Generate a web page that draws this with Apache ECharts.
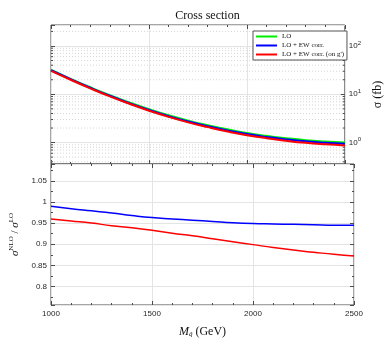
<!DOCTYPE html>
<html>
<head>
<meta charset="utf-8">
<script src="https://cdn.jsdelivr.net/npm/echarts@6/dist/echarts.min.js"></script>
<style>
html, body { margin: 0; padding: 0; background: #fff; }
#chart { width: 392px; height: 343px; }
</style>
</head>
<body>
<div id="chart"></div>
<script>
// squark mass (GeV)
const masses = [1000, 1100, 1200, 1300, 1400, 1500, 1600, 1700, 1800, 1900, 2000, 2100, 2200, 2300, 2400, 2500];
// cross sections (fb)
const sigmaLO = [31.8, 20.9, 13.96, 9.55, 6.76, 4.90, 3.67, 2.85, 2.29, 1.88, 1.58, 1.38, 1.23, 1.12, 1.05, 1.00];
const sigmaEW = [31.5, 20.57, 13.67, 9.30, 6.54, 4.72, 3.52, 2.73, 2.18, 1.79, 1.50, 1.31, 1.165, 1.06, 0.99, 0.945];
const sigmaEWg = [30.5, 19.96, 13.26, 9.02, 6.35, 4.57, 3.40, 2.62, 2.09, 1.70, 1.42, 1.23, 1.09, 0.987, 0.92, 0.872];
// ratios to LO
const ratioEW = [0.990, 0.984, 0.979, 0.974, 0.968, 0.963, 0.960, 0.957, 0.954, 0.951, 0.949, 0.948, 0.947, 0.946, 0.945, 0.945];
const ratioEWg = [0.960, 0.955, 0.950, 0.944, 0.939, 0.933, 0.926, 0.920, 0.913, 0.906, 0.899, 0.892, 0.886, 0.881, 0.876, 0.872];
const seriesNames = ['LO', 'LO + EW corr.', "LO + EW corr. (on g')"];

const axisColor = '#4a4a4a';
const textColor = '#262626';
const gridColor = '#e4e4e4';
const serif = 'Liberation Serif';
const sans = 'Liberation Sans';

function pairs(ys) {
    return masses.map((m, i) => [m, ys[i]]);
}

// minor log grid values 2..9 per decade
const minorLog = [];
for (let d = -1; d <= 2; d++) {
    for (let k = 2; k <= 9; k++) {
        minorLog.push(k * Math.pow(10, d));
    }
}

function xAx(gridIndex, pos, labels, split) {
    return {
        type: 'value',
        gridIndex: gridIndex,
        position: pos,
        min: 1000,
        max: 2500,
        interval: 500,
        axisLine: { show: false },
        axisTick: { show: true, inside: true, length: 4, lineStyle: { color: axisColor } },
        minorTick: { show: true, splitNumber: 5, length: 2, lineStyle: { color: axisColor } },
        splitLine: { show: split, lineStyle: { color: gridColor } },
        axisLabel: { show: labels, color: textColor, fontFamily: sans, fontSize: 8, margin: 5, formatter: v => String(v) }
    };
}

const logMin = 0.36, logMax = 272;

const option = {
    animation: false,
    backgroundColor: '#fff',
    title: {
        text: 'Cross section',
        left: 202.5,
        textAlign: 'center',
        top: 5,
        textStyle: { fontFamily: serif, fontSize: 12, fontWeight: 'normal', color: '#111' }
    },
    legend: {
        data: seriesNames,
        orient: 'vertical',
        left: 253,
        top: 31,
        icon: 'rect',
        itemWidth: 21,
        itemHeight: 2,
        itemGap: 2,
        padding: [2, 3, 2, 3],
        borderColor: '#555',
        borderWidth: 1,
        backgroundColor: '#fff',
        textStyle: { fontFamily: serif, fontSize: 7, color: '#111' }
    },
    grid: [
        { left: 51, top: 25, width: 303, height: 139, show: true, borderColor: axisColor, borderWidth: 1 },
        { left: 51, top: 164, width: 303, height: 141, show: true, borderColor: axisColor, borderWidth: 1 }
    ],
    xAxis: [
        xAx(0, 'bottom', false, true),
        xAx(0, 'top', false, false),
        Object.assign(xAx(1, 'bottom', true, true), {
            name: '{i|M}{sub|q̃} (GeV)',
            nameLocation: 'middle',
            nameGap: 20,
            nameTextStyle: {
                fontFamily: serif, fontSize: 12, color: '#111',
                rich: {
                    i: { fontFamily: serif, fontStyle: 'italic', fontSize: 12, color: '#111' },
                    sub: { fontFamily: serif, fontStyle: 'italic', fontSize: 7, color: '#111', padding: [6, 0, 0, 0] }
                }
            }
        }),
        xAx(1, 'top', false, false)
    ],
    yAxis: [
        {
            type: 'log', gridIndex: 0, position: 'left', min: logMin, max: logMax,
            axisLine: { show: false },
            axisTick: { show: true, inside: true, length: 4, lineStyle: { color: axisColor } },
            axisLabel: { show: false },
            splitLine: { show: true, lineStyle: { color: gridColor } }
        },
        {
            type: 'log', gridIndex: 0, position: 'right', min: logMin, max: logMax,
            axisLine: { show: false },
            axisTick: { show: true, inside: true, length: 4, lineStyle: { color: axisColor } },
            splitLine: { show: false },
            axisLabel: {
                color: textColor, margin: 4, showMinLabel: false, showMaxLabel: false,
                formatter: function (v) {
                    const e = Math.round(Math.log10(v));
                    if (Math.abs(Math.log10(v) - e) > 1e-6) return '';
                    return '{b|10}{s|' + e + '}';
                },
                rich: {
                    b: { fontFamily: sans, fontSize: 8, color: textColor },
                    s: { fontFamily: sans, fontSize: 6, color: textColor, padding: [0, 0, 6, 0] }
                }
            },
            name: 'σ (fb)',
            nameLocation: 'middle',
            nameRotate: 90,
            nameGap: 26,
            nameTextStyle: { fontFamily: serif, fontSize: 12, color: '#111' }
        },
        {
            type: 'value', gridIndex: 1, position: 'left', min: 0.756, max: 1.09,
            axisLine: { show: false },
            axisTick: { show: true, inside: true, length: 4, lineStyle: { color: axisColor } },
            minorTick: { show: true, splitNumber: 2, length: 2, lineStyle: { color: axisColor } },
            splitLine: { show: true, lineStyle: { color: gridColor } },
            axisLabel: { color: textColor, fontFamily: sans, fontSize: 8, margin: 4, showMinLabel: false, showMaxLabel: false },
            name: '{s|σ}{sup|NLO} / {s|σ}{sup|LO}',
            nameLocation: 'middle',
            nameRotate: 90,
            nameGap: 24,
            nameTextStyle: {
                fontFamily: serif, fontSize: 11, color: '#111',
                rich: {
                    s: { fontFamily: serif, fontStyle: 'italic', fontSize: 11, color: '#111' },
                    sup: { fontFamily: serif, fontSize: 7, color: '#111', padding: [0, 0, 7, 0] }
                }
            }
        },
        {
            type: 'value', gridIndex: 1, position: 'right', min: 0.756, max: 1.09,
            axisLine: { show: false },
            axisTick: { show: true, inside: true, length: 4, lineStyle: { color: axisColor } },
            minorTick: { show: true, splitNumber: 2, length: 2, lineStyle: { color: axisColor } },
            splitLine: { show: false },
            axisLabel: { show: false }
        }
    ],
    series: [
        {
            // dotted minor grid + minor ticks of the log axis
            type: 'custom',
            xAxisIndex: 0,
            yAxisIndex: 0,
            silent: true,
            z: 1,
            data: minorLog.map(v => [v]),
            encode: { y: 0 },
            renderItem: function (params, api) {
                const v = api.value(0);
                const a = api.coord([1000, v]);
                const b = api.coord([2500, v]);
                if (a[1] < 25 || a[1] > 164) return null;
                const st = { stroke: axisColor, lineWidth: 1 };
                return {
                    type: 'group',
                    children: [
                        { type: 'line', shape: { x1: a[0], y1: a[1], x2: b[0], y2: b[1] }, style: { stroke: '#d6d6d6', lineWidth: 1, lineDash: [1, 2] } },
                        { type: 'line', shape: { x1: a[0], y1: a[1], x2: a[0] + 2, y2: a[1] }, style: st },
                        { type: 'line', shape: { x1: b[0] - 2, y1: b[1], x2: b[0], y2: b[1] }, style: st }
                    ]
                };
            }
        },
        {
            name: seriesNames[0], type: 'line', xAxisIndex: 0, yAxisIndex: 0,
            data: pairs(sigmaLO), smooth: true, symbol: 'none',
            lineStyle: { color: '#00ee00', width: 2 }, itemStyle: { color: '#00ee00' }, z: 3
        },
        {
            name: seriesNames[1], type: 'line', xAxisIndex: 0, yAxisIndex: 0,
            data: pairs(sigmaEW), smooth: true, symbol: 'none',
            lineStyle: { color: '#0000ff', width: 2 }, itemStyle: { color: '#0000ff' }, z: 4
        },
        {
            name: seriesNames[2], type: 'line', xAxisIndex: 0, yAxisIndex: 0,
            data: pairs(sigmaEWg), smooth: true, symbol: 'none',
            lineStyle: { color: '#ff0000', width: 2 }, itemStyle: { color: '#ff0000' }, z: 5
        },
        {
            name: seriesNames[1], type: 'line', xAxisIndex: 2, yAxisIndex: 2,
            data: pairs(ratioEW), smooth: true, symbol: 'none',
            lineStyle: { color: '#0000ff', width: 1.5 }, z: 4
        },
        {
            name: seriesNames[2], type: 'line', xAxisIndex: 2, yAxisIndex: 2,
            data: pairs(ratioEWg), smooth: true, symbol: 'none',
            lineStyle: { color: '#ff0000', width: 1.5 }, z: 5
        }
    ]
};

const myChart = echarts.init(document.getElementById('chart'));
myChart.setOption(option);
</script>
</body>
</html>
